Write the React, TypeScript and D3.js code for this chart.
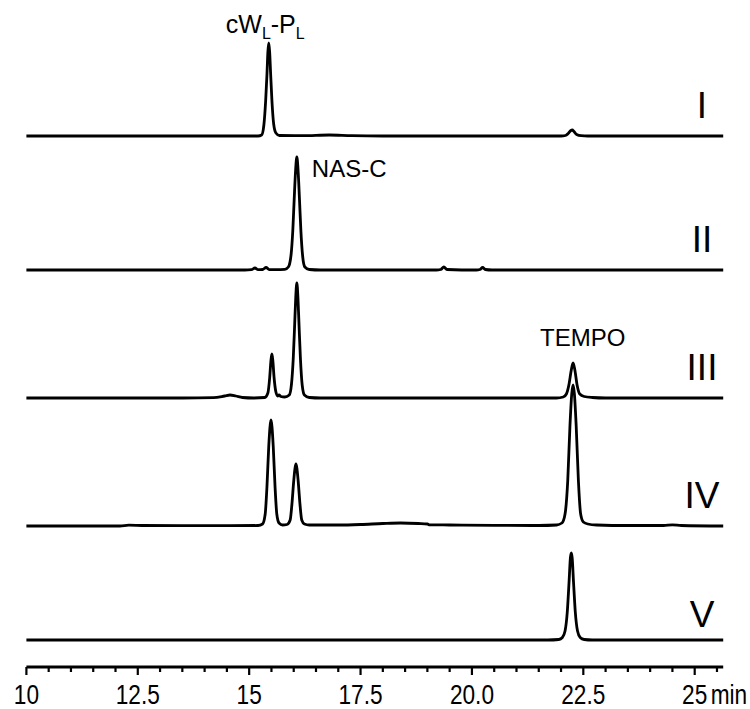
import React from "react";
import * as d3 from "d3";

// Retention time (min) vs detector response (arbitrary units) for each run
const traceI: [number, number][] = [
  [10, 0], [13.0, 0], [15.2, 0], [15.28, 1], [15.33, 11], [15.37, 35], [15.4, 62], [15.42, 84],
  [15.44, 93], [15.46, 84], [15.48, 64], [15.51, 36], [15.55, 12], [15.6, 3], [15.68, 0.5],
  [16.2, 0.3], [16.8, 1], [17.3, 0.3], [18, 0], [22.0, 0], [22.1, 0.5], [22.16, 2.5],
  [22.22, 5.5], [22.25, 6], [22.29, 4.5], [22.35, 1.5], [22.45, 0.3], [22.6, 0], [25.64, 0],
];

const traceII: [number, number][] = [
  [10, 0], [14.9, 0], [15.05, 0.3], [15.13, 2], [15.2, 0.3], [15.3, 0.5], [15.38, 2.5],
  [15.45, 0.4], [15.6, 0.3], [15.8, 0.6], [15.88, 3], [15.94, 15], [15.98, 40], [16.01, 70],
  [16.04, 98], [16.07, 113], [16.1, 98], [16.13, 70], [16.16, 40], [16.2, 14], [16.25, 3],
  [16.35, 0.5], [16.6, 0], [19.2, 0], [19.3, 0.5], [19.37, 3], [19.44, 0.5], [20.1, 0],
  [20.18, 0.5], [20.24, 2.5], [20.3, 0.5], [20.45, 0], [25.64, 0],
];

const traceIII: [number, number][] = [
  [10, 0], [13.5, 0], [14.2, 0.3], [14.45, 2], [14.57, 3], [14.7, 2], [14.85, 0.5], [15.1, 0],
  [15.35, 0.5], [15.42, 5], [15.46, 20], [15.49, 38], [15.51, 44], [15.53, 38], [15.56, 20],
  [15.6, 6], [15.64, 2], [15.67, 3], [15.71, 1.5], [15.8, 1], [15.9, 3], [15.95, 14],
  [15.99, 40], [16.02, 72], [16.045, 100], [16.07, 115], [16.095, 100], [16.12, 72],
  [16.15, 40], [16.19, 13], [16.24, 3], [16.35, 0.5], [16.6, 0], [21.9, 0], [22.05, 1],
  [22.12, 4], [22.18, 14], [22.23, 28], [22.27, 35], [22.31, 28], [22.36, 13], [22.42, 4],
  [22.52, 1.5], [22.7, 0.5], [23.0, 0], [25.64, 0],
];

const traceIV: [number, number][] = [
  [10, 0], [12.1, 0], [12.3, 0.8], [12.6, 0.5], [13.5, 0.3], [14.5, 0.3], [15.2, 0.5],
  [15.3, 2], [15.36, 12], [15.4, 40], [15.44, 80], [15.47, 100], [15.49, 106], [15.51, 100],
  [15.54, 80], [15.58, 40], [15.62, 12], [15.67, 3], [15.75, 1], [15.85, 1.5], [15.92, 6],
  [15.96, 22], [16.0, 45], [16.03, 58], [16.05, 62], [16.07, 58], [16.1, 45], [16.14, 22],
  [16.18, 6], [16.24, 2], [16.35, 1], [17, 1], [17.5, 1.5], [18, 2.5], [18.4, 3], [18.8, 2.5],
  [19.0, 2], [19.05, 1.2], [19.5, 1], [20.5, 0.6], [21.5, 0.5], [21.9, 1], [22.02, 3],
  [22.09, 12], [22.15, 45], [22.2, 100], [22.24, 132], [22.27, 141], [22.3, 132], [22.34, 100],
  [22.39, 45], [22.44, 12], [22.5, 4], [22.6, 2], [22.8, 1], [23.5, 0.5], [24.3, 0.5],
  [24.5, 1.2], [24.7, 0.5], [25.64, 0],
];

const traceV: [number, number][] = [
  [10, 0], [21.7, 0], [21.95, 0.5], [22.03, 2.5], [22.09, 9], [22.14, 28], [22.18, 58],
  [22.21, 82], [22.23, 87], [22.25, 82], [22.28, 58], [22.32, 28], [22.37, 9], [22.43, 2.5],
  [22.52, 0.5], [22.7, 0], [25.64, 0],
];

const traces = [traceI, traceII, traceIII, traceIV, traceV];
const traceNames = ["I", "II", "III", "IV", "V"];

const majorTicks = [10, 12.5, 15, 17.5, 20, 22.5, 25];
const majorTickLabels = ["10", "12.5", "15", "17.5", "20.0", "22.5", "25"];
const axisUnit = "min";

// Peak annotations: label parts, retention time of the annotated peak, and the run it sits on
const peakLabels = [
  { parts: [["cW", false], ["L", true], ["-P", false], ["L", true]] as [string, boolean][], time: 15.44, run: 0 },
  { parts: [["NAS-C", false]] as [string, boolean][], time: 16.07, run: 1 },
  { parts: [["TEMPO", false]] as [string, boolean][], time: 22.27, run: 2 },
];

const W = 750;
const H = 709;
const tMin = 10;
const tMax = 25.64;
const baselines = [136, 270, 398, 526, 640];
const axisY = 667;
const FONT = "'Liberation Sans', Arial, sans-serif";

export default function App() {
  const x = d3.scaleLinear().domain([10, 25]).range([26.4, 694.7]);
  const signal = d3.scaleLinear().domain([0, 100]).range([0, 100]);

  const lineFor = (base: number) =>
    d3
      .line<[number, number]>()
      .x((d) => x(d[0]))
      .y((d) => base - signal(d[1]))
      .curve(d3.curveMonotoneX);

  const minorTicks = d3.range(tMin, tMax, 0.5).filter((t) => !majorTicks.some((m) => Math.abs(m - t) < 1e-6));

  // label placement relative to annotated peak top
  const labelOffsets = [
    { dx: -43, dy: -10 },
    { dx: 15, dy: 20 },
    { dx: -33, dy: -17 },
  ];

  return (
    <svg
      width={W}
      height={H}
      style={{ position: "absolute", left: 0, top: 0, background: "#fff" }}
      fontFamily={FONT}
    >
      <rect width={W} height={H} fill="#fff" />
      {traces.map((tr, i) => (
        <path
          key={traceNames[i]}
          d={lineFor(baselines[i])(tr) || ""}
          fill="none"
          stroke="#000"
          strokeWidth={2.8}
          strokeLinejoin="round"
        />
      ))}

      {traceNames.map((name, i) => (
        <text
          key={name}
          x={702}
          y={baselines[i] - (i === 4 ? 13 : 18)}
          textAnchor="middle"
          fontSize={37}
          fill="#000"
        >
          {name}
        </text>
      ))}

      {peakLabels.map((pl, i) => {
        const tr = traces[pl.run];
        const top = d3.max(tr.filter((d) => Math.abs(d[0] - pl.time) < 0.05), (d) => d[1]) || 0;
        const px = x(pl.time) + labelOffsets[i].dx;
        const py = baselines[pl.run] - signal(top) + labelOffsets[i].dy;
        return (
          <text key={i} x={px} y={py} fontSize={i === 0 ? 25 : 24} fill="#000">
            {pl.parts.map(([s, sub], j) =>
              sub ? (
                <tspan key={j} fontSize={16} dy={6}>
                  {s}
                </tspan>
              ) : (
                <tspan key={j} dy={j > 0 ? -6 : 0}>
                  {s}
                </tspan>
              )
            )}
          </text>
        );
      })}

      <line x1={x(tMin)} x2={x(tMax)} y1={axisY} y2={axisY} stroke="#000" strokeWidth={2.8} />
      {majorTicks.map((t) => (
        <line key={"M" + t} x1={x(t)} x2={x(t)} y1={axisY} y2={axisY + 8} stroke="#000" strokeWidth={2.2} />
      ))}
      {minorTicks.map((t) => (
        <line key={"m" + t} x1={x(t)} x2={x(t)} y1={axisY} y2={axisY + 5} stroke="#000" strokeWidth={2.2} />
      ))}
      {majorTicks.map((t, i) => (
        <text
          key={"L" + t}
          transform={`translate(${x(t)},704) scale(0.84,1)`}
          textAnchor="middle"
          fontSize={27}
          fill="#000"
        >
          {majorTickLabels[i]}
        </text>
      ))}
      <text
        transform={`translate(${x(25) + 16},704) scale(0.84,1)`}
        fontSize={27}
        fill="#000"
      >
        {axisUnit}
      </text>
    </svg>
  );
}
